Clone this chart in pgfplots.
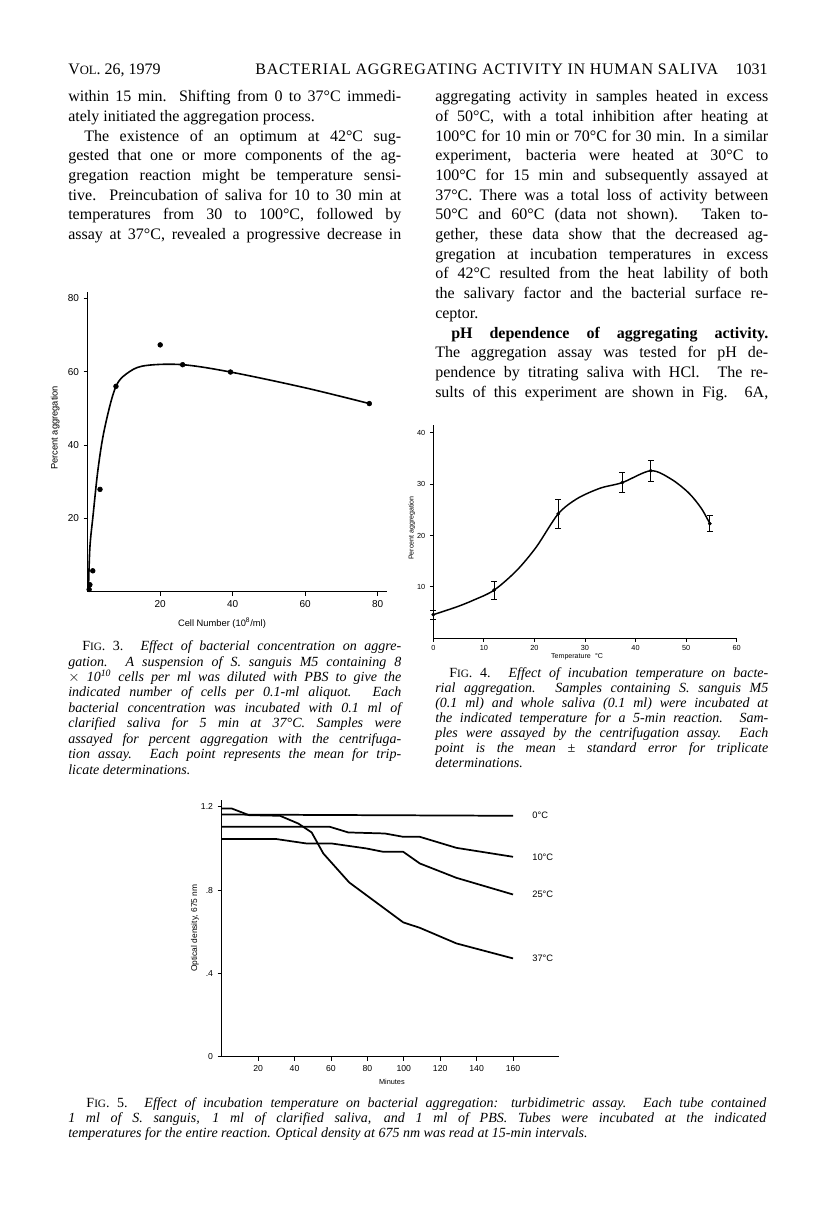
\documentclass[border=0pt]{standalone}
\usepackage{fontspec}
\setmainfont{Liberation Serif}
\newfontfamily\lsans{Liberation Sans}
\usepackage{pgfplots}
\pgfplotsset{compat=1.18}

\newlength\colw \setlength\colw{249.75pt}
\newlength\fullw \setlength\fullw{523.5pt}
\newcommand\bodyf{\fontsize{12}{14}\selectfont}
\newcommand\capf{\fontsize{10.5}{12}\selectfont\itshape}
\newcommand\J[3]{\node[anchor=base west,inner sep=0pt,font=\bodyf] at (#1,#2) {\makebox[\colw][s]{#3}};}
\newcommand\Lb[3]{\node[anchor=base west,inner sep=0pt,font=\bodyf] at (#1,#2) {#3};}
\newcommand\CJ[3]{\node[anchor=base west,inner sep=0pt,font=\capf] at (#1,#2) {\makebox[\colw][s]{#3}};}
\newcommand\CL[3]{\node[anchor=base west,inner sep=0pt,font=\capf] at (#1,#2) {#3};}
\newcommand\FJ[2]{\node[anchor=base west,inner sep=0pt,font=\capf] at (68,#1) {\makebox[\fullw][s]{#2}};}
\newcommand\fig[1]{\textup{F{\fontsize{8.4}{10}\selectfont IG}. #1.}}

\pgfplotsset{scanaxis/.style={
    scale only axis, clip=false,
    axis x line=bottom, axis y line=left,
    axis line style={-, line width=0.7pt},
    tick style={black, line width=0.6pt},
    tick align=outside, major tick length=3pt,
    /pgf/number format/assume math mode=true,
}}

\begin{document}
\begin{tikzpicture}
\fill[white] (0pt,0pt) rectangle (612pt,-922.5pt);
\useasboundingbox (0pt,0pt) rectangle (612pt,-922.5pt);

\begin{scope}[x=0.75pt,y=-0.75pt]
% running head
\Lb{68}{75}{V{\fontsize{9.5}{10}\selectfont OL}. 26, 1979}
\node[anchor=base east,inner sep=0pt,font=\bodyf] at (768,75) {{\addfontfeature{LetterSpace=4.5}BACTERIAL AGGREGATING ACTIVITY IN HUMAN SALIVA}\hspace{1.1em}1031};

% left column
\J{68}{102.0}{within 15 min. Shifting from 0 to 37°C immedi-}
\Lb{68}{121.7}{ately initiated the aggregation process.}
\J{68}{141.3}{\hspace*{1em}The existence of an optimum at 42°C sug-}
\J{68}{161.0}{gested that one or more components of the ag-}
\J{68}{180.7}{gregation reaction might be temperature sensi-}
\J{68}{200.3}{tive. Preincubation of saliva for 10 to 30 min at}
\J{68}{220.0}{temperatures from 30 to 100°C, followed by}
\J{68}{239.7}{assay at 37°C, revealed a progressive decrease in}

% right column
\J{435}{102.0}{aggregating activity in samples heated in excess}
\J{435}{121.7}{of 50°C, with a total inhibition after heating at}
\J{435}{141.3}{100°C for 10 min or 70°C for 30 min. In a similar}
\J{435}{161.0}{experiment, bacteria were heated at 30°C to}
\J{435}{180.7}{100°C for 15 min and subsequently assayed at}
\J{435}{200.3}{37°C. There was a total loss of activity between}
\J{435}{220.0}{50°C and 60°C (data not shown). Taken to-}
\J{435}{239.7}{gether, these data show that the decreased ag-}
\J{435}{259.4}{gregation at incubation temperatures in excess}
\J{435}{279.0}{of 42°C resulted from the heat lability of both}
\J{435}{298.7}{the salivary factor and the bacterial surface re-}
\Lb{435}{318.4}{ceptor.}
\J{435}{338.0}{\hspace*{1em}\textbf{pH dependence of aggregating activity.}}
\J{435}{357.7}{The aggregation assay was tested for pH de-}
\J{435}{377.4}{pendence by titrating saliva with HCl. The re-}
\J{435}{397.1}{sults of this experiment are shown in Fig. 6A,}

% captions of Fig. 3 and Fig. 4
\CJ{68}{650.5}{\hspace*{1em}\fig{3} Effect of bacterial concentration on aggre-}
\CJ{68}{666.0}{gation. A suspension of S. sanguis M5 containing 8}
\CJ{68}{681.4}{$\times$ 10\textsuperscript{10} cells per ml was diluted with PBS to give the}
\CJ{68}{696.9}{indicated number of cells per 0.1-ml aliquot. Each}
\CJ{68}{712.3}{bacterial concentration was incubated with 0.1 ml of}
\CJ{68}{727.8}{clarified saliva for 5 min at 37°C. Samples were}
\CJ{68}{743.2}{assayed for percent aggregation with the centrifuga-}
\CJ{68}{758.7}{tion assay. Each point represents the mean for trip-}
\CL{68}{774.1}{licate determinations.}

\CJ{435}{677.5}{\hspace*{1em}\fig{4} Effect of incubation temperature on bacte-}
\CJ{435}{692.5}{rial aggregation. Samples containing S. sanguis M5}
\CJ{435}{707.5}{(0.1 ml) and whole saliva (0.1 ml) were incubated at}
\CJ{435}{722.5}{the indicated temperature for a 5-min reaction. Sam-}
\CJ{435}{737.5}{ples were assayed by the centrifugation assay. Each}
\CJ{435}{752.5}{point is the mean ± standard error for triplicate}
\CL{435}{767.5}{determinations.}

% caption of Fig. 5
\FJ{1107}{\hspace*{1.3em}\fig{5} Effect of incubation temperature on bacterial aggregation: turbidimetric assay. Each tube contained}
\FJ{1122}{1 ml of S. sanguis, 1 ml of clarified saliva, and 1 ml of PBS. Tubes were incubated at the indicated}
\CL{68}{1137}{temperatures for the entire reaction. Optical density at 675 nm was read at 15-min intervals.}
\end{scope}

% Fig. 3
\begin{axis}[scanaxis, at={(65.775pt,-443.775pt)}, anchor=south west,
    width=224.25pt, height=225pt,
    xmin=0, xmax=82.5, ymin=0, ymax=81.8,
    xtick={20,40,60,80}, ytick={20,40,60,80},
    tick label style={font=\lsans\fontsize{7.5}{9}\selectfont},
    xlabel={Cell Number (10\textsuperscript{8}/ml)},
    ylabel={Percent aggregation},
    x label style={at={(axis description cs:0.449,-0.104)}, anchor=center, font=\lsans\fontsize{7}{8}\selectfont},
    y label style={at={(axis description cs:-0.109,0.546)}, anchor=center, font=\lsans\fontsize{7}{8}\selectfont},
]
\addplot[only marks, mark=*, mark size=1.8pt] coordinates {
    (0.4,0.6)(0.6,1.9)(1.4,5.7)(3.4,27.9)(7.8,56.0)(20,67.3)(26.2,61.9)(39.4,59.9)(77.7,51.3)
};
\addplot[smooth, tension=0.55, line width=1.2pt] coordinates {
    (0.2,0)(0.6,12)(1.5,21)(2.9,33.8)(4.7,44.7)(7.8,56)(11.7,60.1)(16.3,61.7)(26.2,61.9)(39.4,59.9)(60,55.6)(77.7,51.3)
};
\end{axis}

% Fig. 4
\begin{axis}[scanaxis, at={(324.975pt,-478.725pt)}, anchor=south west,
    width=227.5pt, height=160pt,
    xmin=0, xmax=60, ymin=0, ymax=41.5,
    xtick={0,10,...,60}, ytick={10,20,30,40},
    major tick length=2.5pt,
    tick label style={font=\lsans\fontsize{5.5}{6}\selectfont},
    xticklabel style={yshift=1pt},
    xlabel={Temperature\hspace{0.6em}°C},
    ylabel={Percent aggregation},
    x label style={at={(axis description cs:0.474,-0.085)}, anchor=center, font=\lsans\fontsize{5.3}{6}\selectfont},
    y label style={at={(axis description cs:-0.071,0.517)}, anchor=center, font=\lsans\fontsize{5.3}{6}\selectfont},
]
\addplot[smooth, tension=0.5, line width=1.1pt] coordinates {
    (0,4.6)(4.6,6.1)(7.9,7.4)(12,9.35)(16.5,13.2)(20.4,17.8)(24.7,24.2)(28.5,27.2)(33,29.2)(37.4,30.3)(43,32.6)(47,31.0)(50.5,28.3)(53,25.3)(54.7,22.3)
};
\addplot[only marks, mark=*, mark size=1.2pt,
    error bars/.cd, y dir=both, y explicit,
    error bar style={line width=0.7pt},
    error mark options={rotate=90, mark size=2.2pt, line width=0.7pt}]
    coordinates {
    (0,4.6) +- (0,0.9)
    (12,9.35) +- (0,1.75)
    (24.7,24.2) +- (0,2.8)
    (37.4,30.3) +- (0,1.95)
    (43,32.6) +- (0,2.05)
    (54.7,22.3) +- (0,1.55)
};
\end{axis}

% Fig. 5
\begin{axis}[scanaxis, at={(166.275pt,-792.525pt)}, anchor=south west,
    width=253.2pt, height=192.5pt,
    xmin=0, xmax=185.4, ymin=0, ymax=1.2326,
    xtick={20,40,...,160}, ytick={0,0.4,0.8,1.2},
    yticklabels={0,.4,.8,1.2},
    tick label style={font=\lsans\fontsize{6.5}{7}\selectfont},
    xlabel={Minutes},
    ylabel={Optical density, 675 nm},
    x label style={at={(axis description cs:0.504,-0.099)}, anchor=center, font=\lsans\fontsize{5.5}{6}\selectfont},
    y label style={at={(axis description cs:-0.079,0.501)}, anchor=center, font=\lsans\fontsize{6.3}{7}\selectfont},
]
\addplot[black, line width=1.3pt, line join=round] coordinates {(0,1.163)(160,1.157)};
\addplot[black, line width=1.3pt, line join=round] coordinates {(0,1.104)(59.4,1.104)(69.5,1.077)(89.6,1.072)(99.7,1.056)(108.8,1.056)(128.9,1.003)(160,0.96)};
\addplot[black, line width=1.3pt, line join=round] coordinates {(0,1.045)(30.2,1.045)(46.6,1.024)(60.3,1.024)(79.5,1.0)(88.7,0.984)(99.7,0.984)(108.8,0.928)(128.9,0.859)(160,0.779)};
\addplot[black, line width=1.3pt, line join=round] coordinates {(0,1.192)(5.5,1.192)(15,1.16)(32,1.157)(42,1.12)(49.4,1.077)(55.8,0.976)(70,0.837)(99.7,0.645)(108.8,0.619)(128.9,0.544)(160,0.472)};
\node[anchor=west, font=\lsans\fontsize{7}{8}\selectfont] at (axis cs:168,1.157) {0°C};
\node[anchor=west, font=\lsans\fontsize{7}{8}\selectfont] at (axis cs:168,0.96) {10°C};
\node[anchor=west, font=\lsans\fontsize{7}{8}\selectfont] at (axis cs:168,0.779) {25°C};
\node[anchor=west, font=\lsans\fontsize{7}{8}\selectfont] at (axis cs:168,0.472) {37°C};
\end{axis}
\end{tikzpicture}
\end{document}
